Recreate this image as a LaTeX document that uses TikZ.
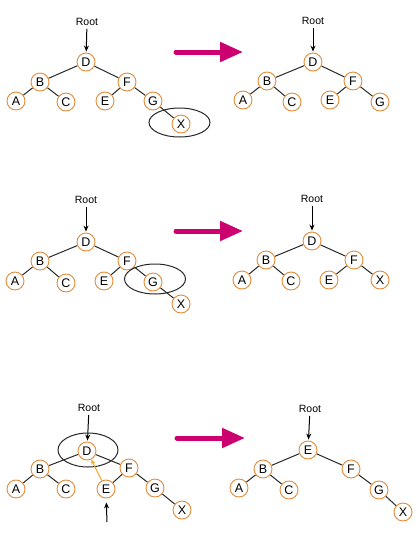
\documentclass[tikz,border=0pt]{standalone}
\usepackage{fontspec}
\setmainfont{Liberation Sans}
\usepackage{xcolor}
\usetikzlibrary{arrows.meta,positioning,calc,backgrounds}

\definecolor{ringorange}{RGB}{226,140,60}
\definecolor{swaporange}{RGB}{240,165,40}
\definecolor{stepmagenta}{RGB}{204,0,110}
\definecolor{edgegray}{RGB}{40,40,40}

\begin{document}
\begin{tikzpicture}[
    x=1pt, y=-1pt,
    key/.style={draw=ringorange, fill=white, circle, line width=0.9pt, minimum size=18pt, inner sep=0pt, font=\fontsize{12.5}{13}\selectfont},
    rootlabel/.style={inner sep=1pt, font=\fontsize{10.5}{11}\selectfont},
    link/.style={draw=edgegray, line width=1pt},
    ptr/.style={-{Stealth[length=6pt, width=5pt]}, line width=1pt, shorten <=2pt, shorten >=1pt},
    swap/.style={-{Stealth[length=5pt, width=4pt]}, draw=swaporange, line width=1pt},
    ring/.style={draw=edgegray, line width=1pt},
    stepbox/.style={-{Triangle[length=23pt, width=19pt]}, draw=stepmagenta, line width=5pt, line cap=round},
]
    \useasboundingbox (0,0) rectangle (419,547);

    % Case 1: delete leaf X
    \node[rootlabel] (r1) at (87,22) {Root};
    \node[key] (d1) at (86,62) {D};
    \node[key] (b1) at (40,82) {B};
    \node[key] (f1) at (127,82) {F};
    \node[key] (a1) at (16,101) {A};
    \node[key] (c1) at (66,102) {C};
    \node[key] (e1) at (105,101) {E};
    \node[key] (g1) at (153,101) {G};
    \node[key] (x1) at (181,124) {X};

    % Case 1 result
    \node[rootlabel] (r2) at (313,21) {Root};
    \node[key] (d2) at (313,62) {D};
    \node[key] (b2) at (267,81) {B};
    \node[key] (f2) at (353,81) {F};
    \node[key] (a2) at (243,100) {A};
    \node[key] (c2) at (292,102) {C};
    \node[key] (e2) at (330,100) {E};
    \node[key] (g2) at (380,102) {G};

    % Case 2: delete G with one child
    \node[rootlabel] (r3) at (86,200) {Root};
    \node[key] (d3) at (86,242) {D};
    \node[key] (b3) at (40,261) {B};
    \node[key] (f3) at (127,261) {F};
    \node[key] (a3) at (15,281) {A};
    \node[key] (c3) at (66,283) {C};
    \node[key] (e3) at (104,281) {E};
    \node[key] (g3) at (153,282) {G};
    \node[key] (x3) at (181,304) {X};

    % Case 2 result
    \node[rootlabel] (r4) at (312,199) {Root};
    \node[key] (d4) at (312,241) {D};
    \node[key] (b4) at (266,260) {B};
    \node[key] (f4) at (354,260) {F};
    \node[key] (a4) at (242,280) {A};
    \node[key] (c4) at (291,281) {C};
    \node[key] (e4) at (329,280) {E};
    \node[key] (x4) at (380,280) {X};

    % Case 3: delete D with two children
    \node[rootlabel] (r5) at (89,408) {Root};
    \node[key] (d5) at (87,451) {D};
    \node[key] (b5) at (40,469) {B};
    \node[key] (f5) at (129,468) {F};
    \node[key] (a5) at (16,489) {A};
    \node[key] (c5) at (66,489) {C};
    \node[key] (e5) at (106,489) {E};
    \node[key] (g5) at (155,488) {G};
    \node[key] (x5) at (182,510) {X};
    \coordinate (succ) at (107,524);

    % Case 3 result
    \node[rootlabel] (r6) at (310,409) {Root};
    \node[key] (e6) at (308,450) {E};
    \node[key] (b6) at (263,469) {B};
    \node[key] (f6) at (351,469) {F};
    \node[key] (a6) at (239,488) {A};
    \node[key] (c6) at (289,490) {C};
    \node[key] (g6) at (379,490) {G};
    \node[key] (x6) at (403,512) {X};

    % Edges, behind the keys
    \begin{scope}[on background layer]
        \foreach \i in {1,2,3,4,5} {
            \draw[link] (d\i) -- (b\i) (d\i) -- (f\i) (b\i) -- (a\i) (b\i) -- (c\i) (f\i) -- (e\i);
        }
        \draw[link] (f1) -- (g1) (g1) -- (x1);
        \draw[link] (f2) -- (g2);
        \draw[link] (f3) -- (g3) (g3) -- (x3);
        \draw[link] (f4) -- (x4);
        \draw[link] (f5) -- (g5) (g5) -- (x5);
        \draw[link] (e6) -- (b6) (e6) -- (f6) (b6) -- (a6) (b6) -- (c6) (f6) -- (g6) (g6) -- (x6);
    \end{scope}

    % Step arrows
    \coordinate (s1a) at (176,52);  \coordinate (s1b) at (243,52);
    \coordinate (s2a) at (176,231); \coordinate (s2b) at (243,231);
    \coordinate (s3a) at (177,438); \coordinate (s3b) at (245,438);
    \draw[stepbox] (s1a) -- (s1b);
    \draw[stepbox] (s2a) -- (s2b);
    \draw[stepbox] (s3a) -- (s3b);

    % Root pointers
    \draw[ptr] (r1) -- (d1);
    \draw[ptr] (r2) -- (d2);
    \draw[ptr] (r3) -- (d3);
    \draw[ptr] (r4) -- (d4);
    \draw[ptr] (r5) -- (d5);
    \draw[ptr] (r6) -- (e6);

    % Marked nodes
    \draw[ring] (179.5,122.5) ellipse [x radius=30.5, y radius=14.5];
    \draw[ring] (155,279) ellipse [x radius=30.5, y radius=15];
    \draw[ring] (88,450) ellipse [x radius=30, y radius=17];

    % Successor moves up
    \draw[swap] (e5) -- (d5);
    \draw[ptr, shorten >=4pt] (succ) -- (e5);

\end{tikzpicture}
\end{document}
